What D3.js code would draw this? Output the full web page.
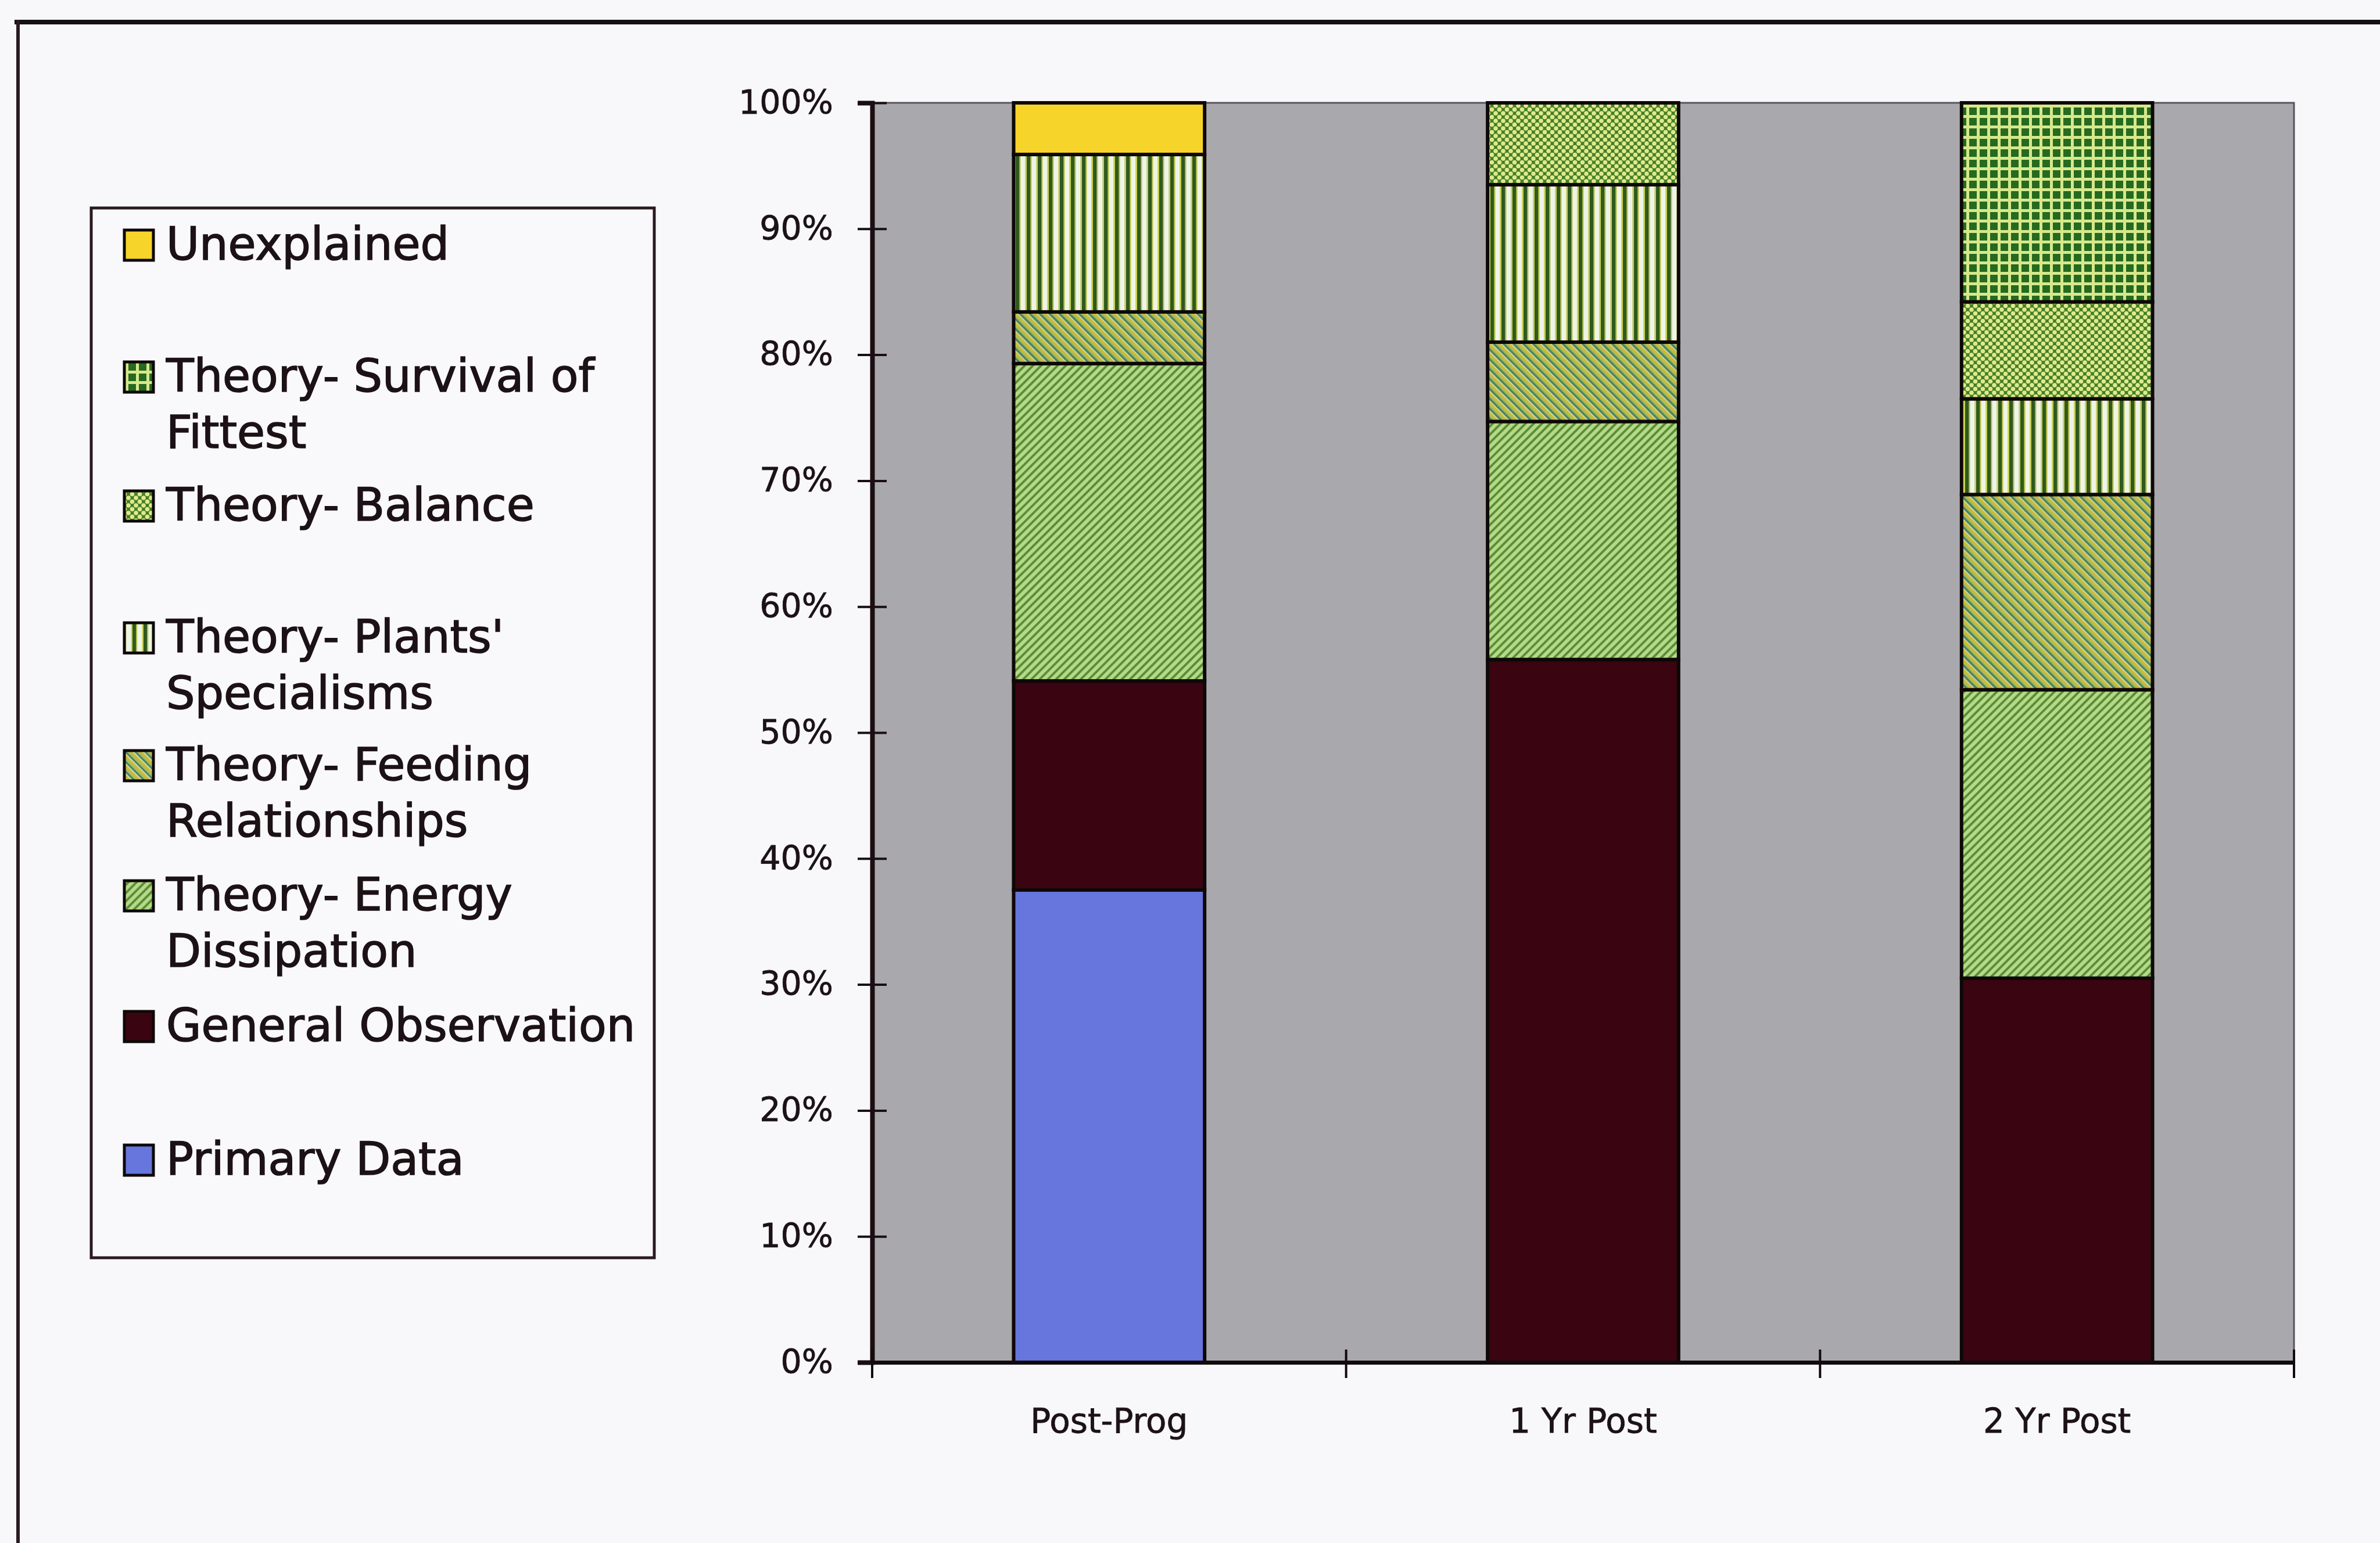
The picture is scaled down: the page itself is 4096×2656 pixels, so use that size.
<!DOCTYPE html>
<html>
<head>
<meta charset="utf-8">
<script src="https://cdn.jsdelivr.net/npm/d3@7"></script>
<style>
  html, body { margin: 0; padding: 0; background: #f8f8fa; }
  svg { display: block; }
</style>
</head>
<body>
<svg id="chart" width="4096" height="2656"></svg>
<script>
// ---------------- DATA ----------------
const categories = ["Post-Prog", "1 Yr Post", "2 Yr Post"];
const seriesKeys = [
  "Primary Data",
  "General Observation",
  "Theory- Energy Dissipation",
  "Theory- Feeding Relationships",
  "Theory- Plants' Specialisms",
  "Theory- Balance",
  "Theory- Survival of Fittest",
  "Unexplained"
];
const primaryData          = [37.5, 0.0, 0.0];
const generalObservation   = [16.6, 55.8, 30.5];
const energyDissipation    = [25.2, 18.9, 22.9];
const feedingRelationships = [4.1, 6.3, 15.5];
const plantsSpecialisms    = [12.5, 12.5, 7.6];
const balance              = [0.0, 6.5, 7.7];
const survivalOfFittest    = [0.0, 0.0, 15.8];
const unexplained          = [4.1, 0.0, 0.0];
const yTicks = [0, 10, 20, 30, 40, 50, 60, 70, 80, 90, 100];

// legend labels (top to bottom, with line breaks as in the original)
const legendOrder = [
  ["Unexplained"],
  ["Theory- Survival of", "Fittest"],
  ["Theory- Balance"],
  ["Theory- Plants'", "Specialisms"],
  ["Theory- Feeding", "Relationships"],
  ["Theory- Energy", "Dissipation"],
  ["General Observation"],
  ["Primary Data"]
];

// ---------------- BUILD TABLE ----------------
const seriesValues = [primaryData, generalObservation, energyDissipation, feedingRelationships,
                      plantsSpecialisms, balance, survivalOfFittest, unexplained];
const table = categories.map((c, i) => {
  const row = { category: c };
  seriesKeys.forEach((k, j) => { row[k] = seriesValues[j][i]; });
  return row;
});
const stacked = d3.stack().keys(seriesKeys)(table);

// ---------------- LAYOUT ----------------
const svg = d3.select("#chart");
const plot = { left: 1501, right: 3948, top: 177, bottom: 2345 };
const FONT = "'DejaVu Sans', Verdana, sans-serif";
const INK = "#1c1216";

// ---------------- PATTERNS ----------------
const defs = svg.append("defs");
function stripes(id, period, bands, angle) {
  const p = defs.append("pattern").attr("id", id)
    .attr("patternUnits", "userSpaceOnUse")
    .attr("width", period).attr("height", period);
  if (angle !== undefined) p.attr("patternTransform", `rotate(${angle})`);
  let x = 0;
  bands.forEach(([w, col]) => {
    p.append("rect").attr("x", x).attr("y", 0).attr("width", w).attr("height", period).attr("fill", col);
    x += w;
  });
  return p;
}
// Plants' Specialisms: vertical stripes
stripes("pPlants", 19, [[6.5, "#2f5a1c"], [2, "#bcc43a"], [8, "#eef5e6"], [2.5, "#c8d050"]]);
// Feeding Relationships: "\" diagonal stripes
stripes("pFeeding", 12, [[4, "#c9bb3c"], [1.5, "#e3ecc6"], [4, "#4a8658"], [2.5, "#a9bb58"]], -45);
// Energy Dissipation: "/" diagonal stripes
stripes("pEnergy", 10, [[4, "#5c8e34"], [6, "#b4d98a"]], 45);
// Survival of Fittest: grid
(function () {
  const p = defs.append("pattern").attr("id", "pSurvival")
    .attr("patternUnits", "userSpaceOnUse").attr("width", 18).attr("height", 18);
  p.append("rect").attr("width", 18).attr("height", 18).attr("fill", "#266a20");
  p.append("rect").attr("x", 0).attr("y", 0).attr("width", 18).attr("height", 5).attr("fill", "#d6e88c");
  p.append("rect").attr("x", 0).attr("y", 0).attr("width", 5).attr("height", 18).attr("fill", "#d6e88c");
})();
// Balance: small diamond checker
(function () {
  const s = 13;
  const p = defs.append("pattern").attr("id", "pBalance")
    .attr("patternUnits", "userSpaceOnUse").attr("width", s).attr("height", s);
  p.append("rect").attr("width", s).attr("height", s).attr("fill", "#447e26");
  [[0, 0], [s, 0], [0, s], [s, s], [s / 2, s / 2]].forEach(([cx, cy]) => {
    p.append("circle").attr("cx", cx).attr("cy", cy).attr("r", 3.8).attr("fill", "#dfe98c");
  });
})();

const fills = {
  "Primary Data": "#6676dc",
  "General Observation": "#3a0510",
  "Theory- Energy Dissipation": "url(#pEnergy)",
  "Theory- Feeding Relationships": "url(#pFeeding)",
  "Theory- Plants' Specialisms": "url(#pPlants)",
  "Theory- Balance": "url(#pBalance)",
  "Theory- Survival of Fittest": "url(#pSurvival)",
  "Unexplained": "#f6d42a"
};

// ---------------- FRAME ----------------
svg.append("rect").attr("width", 4096).attr("height", 2656).attr("fill", "#f8f8fa");
svg.append("line").attr("x1", 25).attr("x2", 4096).attr("y1", 38).attr("y2", 38)
  .attr("stroke", "#141014").attr("stroke-width", 8);
svg.append("line").attr("x1", 31).attr("x2", 31).attr("y1", 34).attr("y2", 2656)
  .attr("stroke", "#2a1a20").attr("stroke-width", 6);

// ---------------- SCALES ----------------
const x = d3.scaleBand().domain(categories).range([plot.left, plot.right])
  .paddingInner(0.597).paddingOuter(0.2985);
const y = d3.scaleLinear().domain([0, 100]).range([plot.bottom, plot.top]);

// plot background
svg.append("rect").attr("x", plot.left).attr("y", plot.top)
  .attr("width", plot.right - plot.left).attr("height", plot.bottom - plot.top)
  .attr("fill", "#a9a8ac").attr("stroke", "#5a5560").attr("stroke-width", 3);

// ---------------- BARS ----------------
const layers = svg.append("g").selectAll("g").data(stacked).join("g")
  .attr("fill", d => fills[d.key]);
layers.selectAll("rect").data(d => d.filter(s => s[1] - s[0] > 0)).join("rect")
  .attr("x", d => x(d.data.category))
  .attr("width", x.bandwidth())
  .attr("y", d => y(d[1]))
  .attr("height", d => y(d[0]) - y(d[1]))
  .attr("stroke", "#0e0808").attr("stroke-width", 6);

// ---------------- AXES ----------------
const yAxis = svg.append("g").attr("transform", `translate(${plot.left},0)`)
  .call(d3.axisLeft(y).tickValues(yTicks).tickFormat(d => d + "%").tickSize(25).tickPadding(42));
yAxis.select(".domain").attr("stroke", "#1a0e12").attr("stroke-width", 8);
yAxis.selectAll(".tick line").attr("x1", 25).attr("stroke", "#1a0e12").attr("stroke-width", 4);
yAxis.selectAll(".tick text").attr("font-family", FONT).attr("font-size", 57).attr("fill", INK)
  .attr("stroke", INK).attr("stroke-width", 0.8);

const xAxis = svg.append("g").attr("transform", `translate(0,${plot.bottom})`)
  .call(d3.axisBottom(x).tickSize(0).tickPadding(80));
xAxis.select(".domain").attr("stroke", "#120a0c").attr("stroke-width", 7);
xAxis.selectAll(".tick text").attr("font-family", FONT).attr("font-size", 58).attr("fill", INK)
  .attr("stroke", INK).attr("stroke-width", 0.8);
// category boundary tick marks
xAxis.selectAll(".bound").data(d3.range(categories.length + 1)).join("line")
  .attr("class", "bound")
  .attr("x1", i => plot.left + i * x.step()).attr("x2", i => plot.left + i * x.step())
  .attr("y1", -22).attr("y2", 27)
  .attr("stroke", "#120a0c").attr("stroke-width", 4);

// ---------------- LEGEND ----------------
const legend = { x: 157, y: 358, w: 969, h: 1807 };
svg.append("rect").attr("x", legend.x).attr("y", legend.y)
  .attr("width", legend.w).attr("height", legend.h)
  .attr("fill", "#f9f9fb").attr("stroke", "#2a1a1e").attr("stroke-width", 5);

const legendKeys = seriesKeys.slice().reverse();
const legendBaselines = [447, 674, 896, 1123, 1343, 1567, 1792, 2022];
const lg = svg.append("g").selectAll("g").data(legendKeys).join("g")
  .attr("transform", (d, i) => `translate(0,${legendBaselines[i]})`);
lg.append("rect").attr("x", 214).attr("y", -51).attr("width", 50).attr("height", 52)
  .attr("fill", d => fills[d]).attr("stroke", "#0e0808").attr("stroke-width", 5);
lg.append("text").attr("x", 286).attr("y", 0)
  .attr("font-family", FONT).attr("font-size", 78).attr("fill", INK)
  .attr("stroke", INK).attr("stroke-width", 1.6)
  .selectAll("tspan").data((d, i) => legendOrder[i]).join("tspan")
  .attr("x", 286).attr("dy", (d, j) => j === 0 ? 0 : 97)
  .text(d => d);
</script>
</body>
</html>
